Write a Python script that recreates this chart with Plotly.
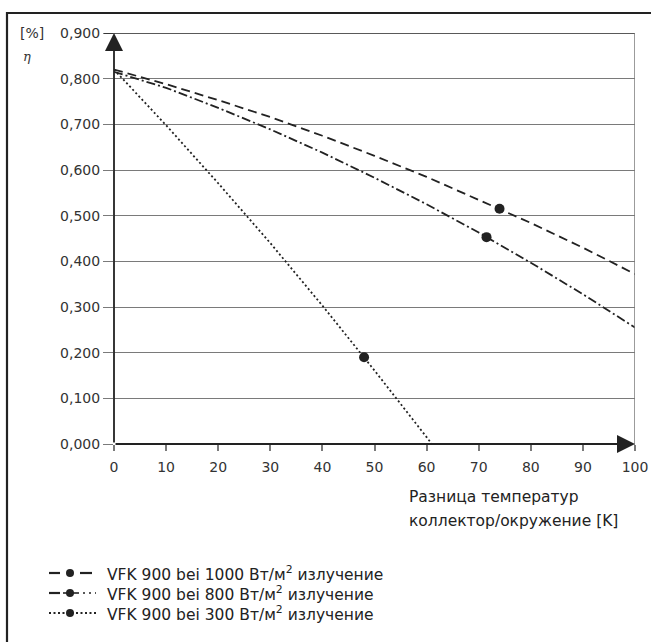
import plotly.graph_objects as go

# Data
x_1000 = [0, 10, 20, 30, 40, 50, 60, 70, 80, 90, 100]
y_1000 = [0.820, 0.788, 0.753, 0.716, 0.675, 0.631, 0.585, 0.535, 0.484, 0.430, 0.372]
pt_1000 = (74, 0.515)

x_800 = [0, 10, 20, 30, 40, 50, 60, 70, 80, 90, 100]
y_800 = [0.815, 0.780, 0.736, 0.689, 0.638, 0.583, 0.525, 0.463, 0.397, 0.328, 0.255]
pt_800 = (71.5, 0.453)

x_300 = [0, 10, 20, 30, 40, 50, 60, 61]
y_300 = [0.820, 0.698, 0.571, 0.440, 0.303, 0.161, 0.015, 0.0]
pt_300 = (48, 0.19)

x_ticks = [0, 10, 20, 30, 40, 50, 60, 70, 80, 90, 100]
y_ticks = [0.0, 0.1, 0.2, 0.3, 0.4, 0.5, 0.6, 0.7, 0.8, 0.9]

legend_labels = [
    "VFK 900 bei 1000 Вт/м<sup>2</sup> излучение",
    "VFK 900 bei 800 Вт/м<sup>2</sup> излучение",
    "VFK 900 bei 300 Вт/м<sup>2</sup> излучение",
]
x_title_lines = ["Разница температур", "коллектор/окружение [K]"]

FONT = "DejaVu Sans"
INK = "#222222"
GRID = "#7a7a7a"

dashes = ["9px,5px", "9px,3px,2px,3px", "2px,2.5px"]
series = [
    (x_1000, y_1000, pt_1000, dashes[0]),
    (x_800, y_800, pt_800, dashes[1]),
    (x_300, y_300, pt_300, dashes[2]),
]

fig = go.Figure()
for xs, ys, pt, dash in series:
    fig.add_trace(go.Scatter(x=xs, y=ys, mode="lines", line=dict(color=INK, width=1.8, dash=dash),
                             showlegend=False, hoverinfo="skip"))
    fig.add_trace(go.Scatter(x=[pt[0]], y=[pt[1]], mode="markers",
                             marker=dict(color=INK, size=10), showlegend=False))

W, H = 651, 642
L, R, T, B = 114, 16, 33, 198
pw, ph = W - L - R, H - T - B

def px_x(p):
    return (p - L) / pw

def px_y(p):
    return (H - B - p) / ph

fig.update_layout(
    width=W, height=H,
    margin=dict(l=L, r=R, t=T, b=B, autoexpand=False),
    paper_bgcolor="white", plot_bgcolor="white",
    separators=",.",
    font=dict(family=FONT, size=14, color=INK),
    xaxis=dict(range=[0, 100], tickvals=x_ticks, showgrid=False, zeroline=False,
               ticks="outside", ticklen=6, tickcolor=GRID, tickwidth=1.5, automargin=False,
               ticklabelstandoff=4,
               showline=False, tickfont=dict(size=14, color="#333")),
    yaxis=dict(range=[0, 0.9], tickvals=y_ticks, tickformat=".3f", showgrid=True,
               gridcolor=GRID, gridwidth=1, zeroline=False, automargin=False,
               ticks="outside", ticklen=10, tickcolor=GRID, tickwidth=1,
               showline=False, tickfont=dict(size=14, color="#333")),
    showlegend=False,
)

def seg(x0, x1, y, dash="solid", w=2.2):
    return dict(type="line", xref="paper", yref="paper", x0=px_x(x0), x1=px_x(x1),
                y0=px_y(y), y1=px_y(y), line=dict(color=INK, width=w, dash=dash))

def dot(xc, y, r=4):
    return dict(type="circle", xref="paper", yref="paper", x0=px_x(xc - r), x1=px_x(xc + r),
                y0=px_y(y + r), y1=px_y(y - r), fillcolor=INK, line=dict(color=INK, width=0))

shapes = [
    # outer frame
    dict(type="rect", xref="paper", yref="paper", x0=px_x(7), x1=px_x(660),
         y0=px_y(700), y1=px_y(13), line=dict(color=INK, width=2.2)),
    # top line at 0.9
    dict(type="line", xref="paper", yref="y", x0=px_x(104), x1=1, y0=0.9, y1=0.9,
         line=dict(color=INK, width=1.3)),
    # right line at x=100
    dict(type="line", xref="x", yref="paper", x0=100, x1=100, y0=px_y(450), y1=1,
         line=dict(color=GRID, width=1.5)),
]

# legend samples
leg_y = [573, 593, 613]
shapes += [seg(49, 60, leg_y[0]), dot(70, leg_y[0]), seg(80, 92, leg_y[0])]
shapes += [seg(49, 60, leg_y[1]), seg(63, 79, leg_y[1], w=1.6), dot(70, leg_y[1]),
           seg(83, 96, leg_y[1], dash="2px,4px", w=1.6)]
shapes += [seg(49, 96, leg_y[2], dash="2px,2.5px", w=1.8), dot(70, leg_y[2])]
fig.update_layout(shapes=shapes)

annotations = [
    # y axis arrow
    dict(x=0, y=0.9, ax=0, ay=0, xref="x", yref="y", axref="x", ayref="y", text="",
         showarrow=True, arrowhead=2, arrowsize=2, arrowwidth=1.8, arrowcolor=INK),
    # x axis arrow
    dict(x=100, y=0, ax=0, ay=0, xref="x", yref="y", axref="x", ayref="y", text="",
         showarrow=True, arrowhead=2, arrowsize=2, arrowwidth=1.8, arrowcolor=INK),
    dict(x=px_x(18), y=px_y(33), xref="paper", yref="paper", text="[%]", showarrow=False,
         xanchor="left", yanchor="middle", font=dict(size=14, color="#333")),
    dict(x=px_x(27), y=px_y(56), xref="paper", yref="paper", text="<i>η</i>", showarrow=False,
         xanchor="center", yanchor="middle", font=dict(size=13, color="#333", family="DejaVu Serif")),
]
for line, yc in zip(x_title_lines, [497, 521]):
    annotations.append(dict(x=px_x(407), y=px_y(yc), xref="paper", yref="paper", text=line,
                            showarrow=False, xanchor="left", yanchor="middle",
                            font=dict(size=15.5, color=INK)))
for lab, yc in zip(legend_labels, leg_y):
    annotations.append(dict(x=px_x(105), y=px_y(yc), xref="paper", yref="paper", text=lab,
                            showarrow=False, xanchor="left", yanchor="middle",
                            font=dict(size=15.5, color=INK)))
fig.update_layout(annotations=annotations)

fig.write_html("out.html", config={"displayModeBar": False},
               post_script="document.body.style.margin='0';document.body.style.overflow='hidden';")
